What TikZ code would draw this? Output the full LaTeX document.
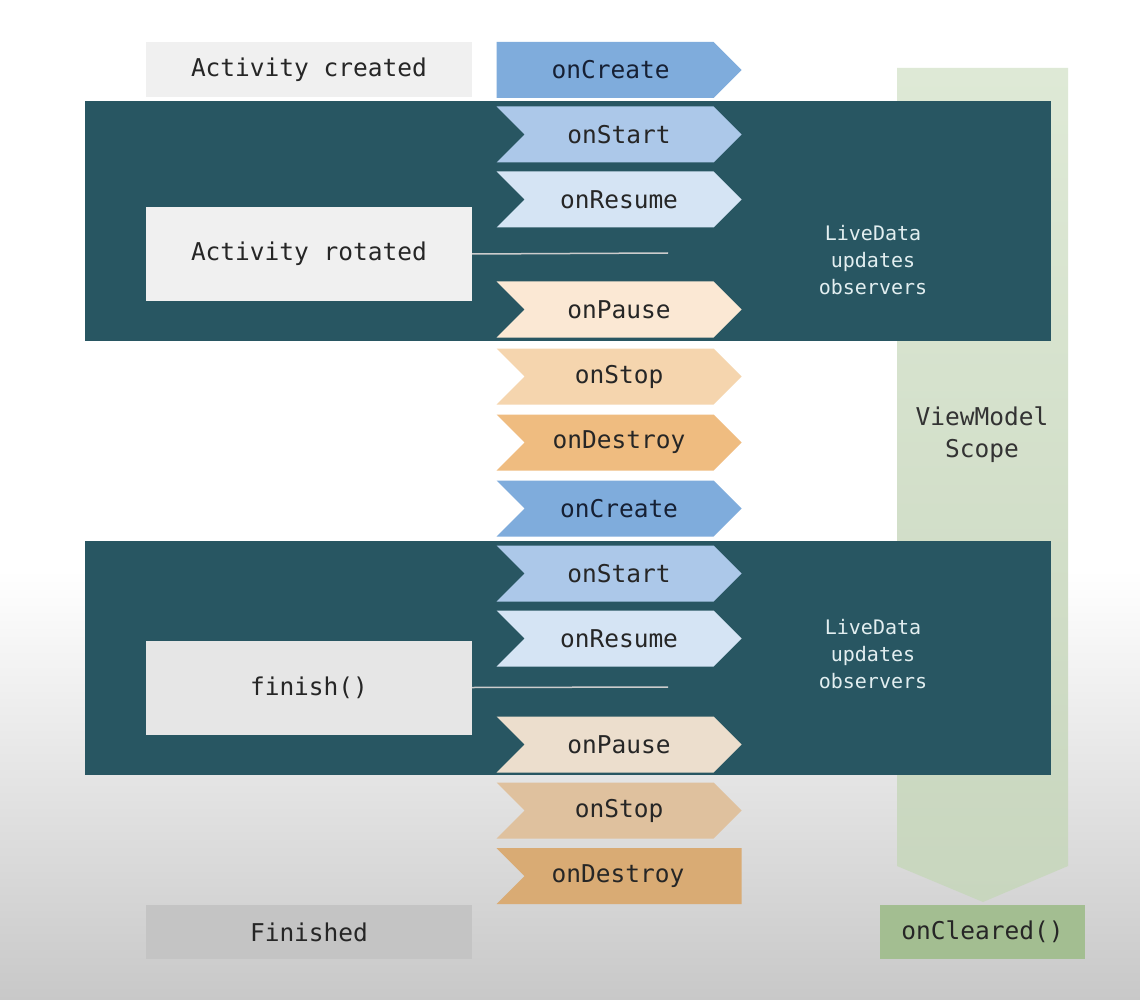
\documentclass[tikz,border=0pt]{standalone}
\usepackage{fontspec}
\usetikzlibrary{shapes.symbols}
\newfontfamily\codefont{DejaVu Sans Mono}

\definecolor{bandteal}{RGB}{40,86,98}
\definecolor{createblue}{RGB}{127,172,220}
\definecolor{createtext}{RGB}{22,32,52}
\definecolor{startblue}{RGB}{172,200,233}
\definecolor{resumeblue}{RGB}{213,228,244}
\definecolor{pausepeach}{RGB}{251,232,212}
\definecolor{stoppeach}{RGB}{245,213,174}
\definecolor{destroyorange}{RGB}{239,188,128}
\definecolor{pausepeachb}{RGB}{236,222,205}
\definecolor{stoppeachb}{RGB}{223,193,158}
\definecolor{destroyorangeb}{RGB}{217,171,116}
\definecolor{boxgray}{RGB}{240,240,240}
\definecolor{finishgray}{RGB}{196,196,196}
\definecolor{scopegreen}{RGB}{222,233,214}
\definecolor{scopegreenb}{RGB}{200,214,190}
\definecolor{clearedgreen}{RGB}{163,190,145}
\definecolor{bggray}{RGB}{200,200,200}
\definecolor{livetext}{RGB}{226,238,240}

\tikzset{
  phase/.style={shape=signal, signal to=east, signal from=west,
    signal pointer angle=90, minimum width=245pt, minimum height=56pt,
    inner sep=0pt, font=\codefont\fontsize{24.5}{28}\selectfont, text=black!85},
  state/.style={minimum width=326pt, inner sep=0pt,
    font=\codefont\fontsize{24.5}{28}\selectfont, text=black!85},
  note/.style={align=center, inner sep=0pt, text=livetext,
    font=\codefont\fontsize{20}{27}\selectfont},
}

\begin{document}
\begin{tikzpicture}[x=1pt, y=-1pt]
    \useasboundingbox (0,0) rectangle (1140,1000);

    % Background
    \fill[white] (0,0) rectangle (1140,570);
    \shade[top color=white, bottom color=bggray] (0,570) rectangle (1140,1000);

    % ViewModel scope (behind the bands)
    \shade[top color=scopegreen, bottom color=scopegreenb]
        (897,68) -- (1068,68) -- (1068,866) -- (983,902) -- (897,866) -- cycle;

    % Bands
    \fill[bandteal] (85,101) rectangle (1051,341);
    \fill[bandteal] (85,541) rectangle (1051,775);

    % First lifecycle
    \node[state, fill=boxgray, minimum height=55pt] (created) at (309,70) {Activity created};
    \node[phase, fill=createblue, signal from=nowhere, text=createtext] (create1) at (605,70) {\hspace*{11pt}onCreate};
    \node[phase, fill=startblue] (start1) at (619,134.5) {onStart};
    \node[phase, fill=resumeblue] (resume1) at (619,199.5) {onResume};
    \node[state, fill=boxgray, minimum height=93pt] (rotated) at (309,254) {Activity rotated};
    \node[phase, fill=pausepeach] (pause1) at (619,309.5) {onPause};
    \node[phase, fill=stoppeach] (stop1) at (619,376.5) {onStop};
    \node[phase, fill=destroyorange] (destroy1) at (619,442.5) {onDestroy};
    \node[note] (live1) at (873,260) {LiveData\\updates\\observers};

    % Second lifecycle
    \node[phase, fill=createblue, text=createtext] (create2) at (619,508.5) {onCreate};
    \node[phase, fill=startblue] (start2) at (619,573.5) {onStart};
    \node[phase, fill=resumeblue] (resume2) at (619,638.5) {onResume};
    \node[state, fill=boxgray!96!black, minimum height=94pt] (finish) at (309,687.5) {finish()};
    \node[phase, fill=pausepeachb] (pause2) at (619,744.5) {onPause};
    \node[phase, fill=stoppeachb] (stop2) at (619,810.5) {onStop};
    \node[phase, fill=destroyorangeb, signal to=nowhere] (destroy2) at (633,876) {onDestroy\hspace*{30pt}};
    \node[note] (live2) at (873,654) {LiveData\\updates\\observers};

    % End states
    \node[state, fill=finishgray, minimum height=54pt] (finished) at (309,932) {Finished};
    \node[state, fill=clearedgreen, minimum width=205pt, minimum height=54pt] (cleared) at (982.5,932) {onCleared()};
    \node[align=center, inner sep=0pt, text=black!80, font=\codefont\fontsize{24.5}{32}\selectfont]
        (scope) at (982,435) {ViewModel\\Scope};

    % Connectors
    \coordinate (rotend) at (668,253);
    \coordinate (finend) at (668,687);
    \draw[line width=1.5pt, black!20] (rotated.east) -- (rotend);
    \draw[line width=1.5pt, black!20] (finish.east) -- (finend);
\end{tikzpicture}
\end{document}
